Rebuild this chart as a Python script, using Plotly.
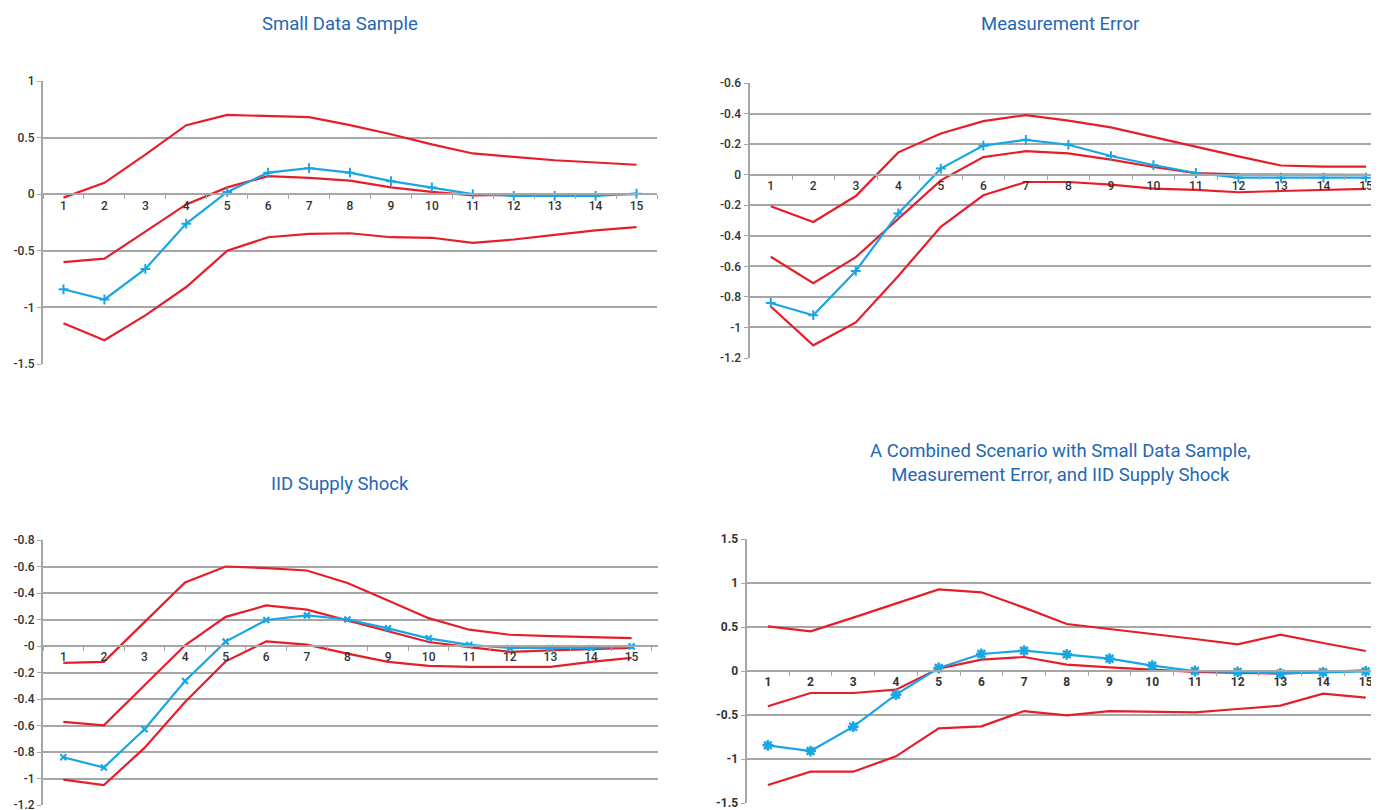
import plotly.graph_objects as go

periods = [str(i) for i in range(1, 16)]

# Small Data Sample
sds_upper = [-0.03, 0.10, 0.35, 0.61, 0.70, 0.69, 0.68, 0.61, 0.53, 0.44, 0.36, 0.33, 0.30, 0.28, 0.26]
sds_mid = [-0.60, -0.57, -0.33, -0.09, 0.06, 0.16, 0.145, 0.12, 0.06, 0.02, -0.01, -0.005, -0.005, 0.0, 0.0]
sds_blue = [-0.84, -0.93, -0.66, -0.26, 0.02, 0.19, 0.23, 0.19, 0.115, 0.06, 0.0, -0.015, -0.015, -0.015, 0.005]
sds_lower = [-1.14, -1.29, -1.07, -0.82, -0.50, -0.38, -0.35, -0.345, -0.38, -0.385, -0.43, -0.40, -0.36, -0.32, -0.29]

# Measurement Error
me_upper = [-0.207, -0.31, -0.14, 0.146, 0.27, 0.35, 0.39, 0.354, 0.31, 0.245, 0.185, 0.12, 0.06, 0.052, 0.052]
me_mid = [-0.537, -0.71, -0.54, -0.29, -0.037, 0.115, 0.154, 0.139, 0.098, 0.05, 0.01, 0.002, 0.0, 0.0, -0.002]
me_blue = [-0.84, -0.92, -0.63, -0.254, 0.04, 0.19, 0.228, 0.196, 0.122, 0.063, 0.011, -0.02, -0.02, -0.02, -0.02]
me_lower = [-0.863, -1.117, -0.967, -0.663, -0.341, -0.135, -0.048, -0.048, -0.065, -0.091, -0.10, -0.115, -0.107, -0.10, -0.093]

# IID Supply Shock
iid_upper = [-0.128, -0.12, 0.18, 0.48, 0.60, 0.588, 0.57, 0.475, 0.344, 0.21, 0.123, 0.085, 0.075, 0.068, 0.06]
iid_mid = [-0.573, -0.598, -0.296, 0.005, 0.22, 0.306, 0.274, 0.193, 0.113, 0.03, -0.008, -0.045, -0.033, -0.023, -0.015]
iid_blue = [-0.84, -0.917, -0.628, -0.264, 0.033, 0.196, 0.231, 0.20, 0.133, 0.058, 0.008, -0.015, -0.015, -0.015, -0.003]
iid_lower = [-1.008, -1.05, -0.769, -0.422, -0.116, 0.035, 0.01, -0.058, -0.12, -0.15, -0.158, -0.158, -0.158, -0.12, -0.09]

# Combined scenario
cmb_upper = [0.508, 0.45, 0.606, 0.765, 0.928, 0.894, 0.72, 0.534, 0.48, 0.424, 0.364, 0.303, 0.413, 0.318, 0.227]
cmb_mid = [-0.40, -0.25, -0.25, -0.212, 0.027, 0.129, 0.159, 0.072, 0.042, 0.015, -0.011, -0.023, -0.03, -0.011, 0.008]
cmb_blue = [-0.845, -0.91, -0.633, -0.269, 0.034, 0.193, 0.231, 0.189, 0.14, 0.061, 0.0, -0.011, -0.027, -0.015, -0.004]
cmb_lower = [-1.295, -1.144, -1.144, -0.97, -0.652, -0.629, -0.455, -0.504, -0.455, -0.462, -0.47, -0.432, -0.394, -0.258, -0.303]

titles = ["Small Data Sample", "Measurement Error", "IID Supply Shock",
          "A Combined Scenario with Small Data Sample,<br>Measurement Error, and IID Supply Shock"]

ytick_vals = [
    [-1.5, -1, -0.5, 0, 0.5, 1],
    [0.6, 0.4, 0.2, 0, -0.2, -0.4, -0.6, -0.8, -1.0, -1.2],
    [0.8, 0.6, 0.4, 0.2, 0, -0.2, -0.4, -0.6, -0.8, -1.0, -1.2],
    [-1.5, -1, -0.5, 0, 0.5, 1, 1.5],
]
ytick_text = [
    ["-1.5", "-1", "-0.5", "0", "0.5", "1"],
    ["-0.6", "-0.4", "-0.2", "0", "-0.2", "-0.4", "-0.6", "-0.8", "-1", "-1.2"],
    ["-0.8", "-0.6", "-0.4", "-0.2", "-0", "-0.2", "-0.4", "-0.6", "-0.8", "-1", "-1.2"],
    ["-1.5", "-1", "-0.5", "0", "0.5", "1", "1.5"],
]

series = [
    (sds_upper, sds_mid, sds_blue, sds_lower),
    (me_upper, me_mid, me_blue, me_lower),
    (iid_upper, iid_mid, iid_blue, iid_lower),
    (cmb_upper, cmb_mid, cmb_blue, cmb_lower),
]

OFF = 8  # page body margin
W, H = 1379 - OFF, 810
# reference-pixel layout: (x_left, x_right, y_top, y_bottom, y_top_val, y_bottom_val, x_range)
panels = [
    (43, 657, 81, 364, 1.0, -1.5, [-0.5, 14.5]),
    (749.5, 1379, 83, 358, 0.6, -1.2, [-0.5, 14.306]),
    (43, 658, 540, 805, 0.8, -1.2, [-0.5, 14.65]),
    (746.5, 1379, 539, 803, 1.5, -1.5, [-0.5, 14.31]),
]
RED = "#e61e2a"
BLUE = "#19a6e2"
GRID = "#a6a6a6"
FONT = "Roboto, Arial, sans-serif"

markers = [
    dict(symbol="cross-thin", size=7, line=dict(width=2, color=BLUE)),
    dict(symbol="cross-thin", size=7, line=dict(width=2, color=BLUE)),
    dict(symbol="x-thin", size=6, line=dict(width=2.2, color=BLUE)),
    dict(symbol="asterisk-open", size=9, line=dict(width=2.5, color=BLUE)),
]
title_pos = [(340, 24), (1060, 24), (340, 484), (1060, 463)]

fig = go.Figure()
layout = dict(
    width=W, height=H, margin=dict(l=0, r=0, t=0, b=0, autoexpand=False),
    paper_bgcolor="white", plot_bgcolor="white", showlegend=False,
    annotations=[],
)

for i, (p, s) in enumerate(zip(panels, series)):
    xl, xr, yt, yb, vt, vb, xr_range = p
    xl, xr, yt, yb = xl - OFF, xr - OFF, yt - OFF, yb - OFF
    n = "" if i == 0 else str(i + 1)
    xa, ya = "x" + n, "y" + n
    upper, mid, blue, lower = s
    for vals in (upper, mid, lower):
        fig.add_trace(go.Scatter(x=periods, y=vals, mode="lines", xaxis=xa, yaxis=ya,
                                 line=dict(color=RED, width=2.2), hoverinfo="skip"))
    fig.add_trace(go.Scatter(x=periods, y=blue, mode="lines+markers", xaxis=xa, yaxis=ya,
                             line=dict(color=BLUE, width=2.2), marker=dict(color=BLUE, **markers[i])))
    ydom = [max((H - yb) / H, 0.0), (H - yt) / H]
    zero_frac = ydom[0] + (0 - vb) / (vt - vb) * (ydom[1] - ydom[0])
    bold = i == 3
    tickfont = dict(family=FONT, size=12, color="#333333", weight=700 if bold else 500)
    layout["xaxis" + n] = dict(
        domain=[xl / W, min(xr / W, 1.0)], anchor="free", position=zero_frac,
        type="category", range=xr_range, tickson="boundaries", ticks="outside",
        ticklen=4, tickcolor=GRID, showline=True, linecolor=GRID, linewidth=2,
        showgrid=False, zeroline=False, tickfont=tickfont, fixedrange=True,
        automargin=False,
    )
    layout["yaxis" + n] = dict(
        domain=ydom, anchor=xa, range=[vb, vt], tickvals=ytick_vals[i],
        ticktext=ytick_text[i],
        showgrid=True, gridcolor=GRID, gridwidth=2, zeroline=False,
        showline=True, linecolor=GRID, linewidth=2, ticks="outside", ticklen=4,
        tickcolor=GRID, tickfont=tickfont, fixedrange=True, automargin=False,
    )
    tx, ty = title_pos[i]
    tx, ty = tx - OFF, ty - OFF
    layout["annotations"].append(dict(
        text=titles[i], x=tx / W, y=(H - ty) / H, xref="paper", yref="paper",
        xanchor="center", yanchor="middle", showarrow=False,
        font=dict(family=FONT, size=18.5, color="#2468b4"),
    ))

fig.update_layout(**layout)
fig.write_html("out.html")
